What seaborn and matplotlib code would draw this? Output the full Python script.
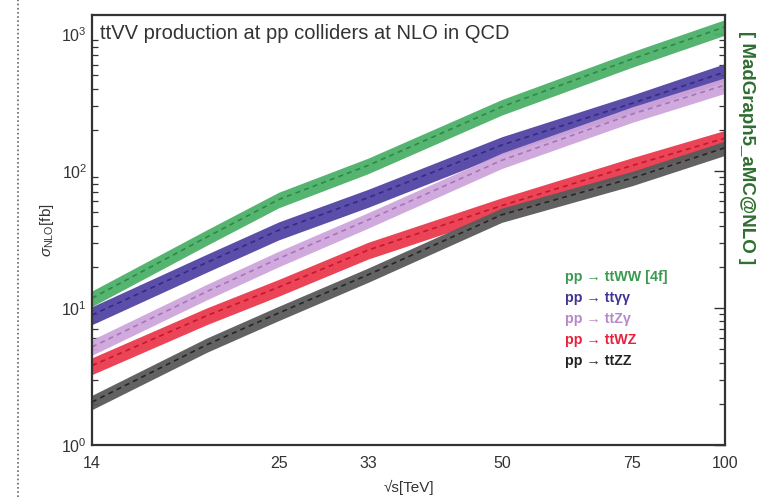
import numpy as np
import pandas as pd
import matplotlib
matplotlib.use("Agg")
import matplotlib.pyplot as plt
from matplotlib.lines import Line2D
import seaborn as sns

# Collider energies (TeV)
sqrt_s = [14, 20, 25, 33, 50, 75, 100]
tick_energies = [14, 25, 33, 50, 75, 100]

# NLO cross sections (fb), central values
xs_ttWW = [11.8, 33, 62, 110, 295, 660, 1130]
xs_ttAA = [8.9, 21.5, 37, 64, 155, 313, 530]
xs_ttZA = [5.2, 13.2, 23, 44, 120, 261, 425]
xs_ttWZ = [3.8, 8.8, 14.2, 26.5, 56, 110, 174]
xs_ttZZ = [2.06, 5.4, 9.2, 17.5, 48, 89, 148]

# relative scale uncertainty (half width of the band)
unc = [0.13, 0.15, 0.13, 0.14, 0.12]

labels = ["pp \u2192 ttWW [4f]", "pp \u2192 tt\u03b3\u03b3", "pp \u2192 ttZ\u03b3",
          "pp \u2192 ttWZ", "pp \u2192 ttZZ"]
band_colors = ["#4cb067", "#5244a3", "#cfa6dc", "#ea3a4e", "#5a5a5a"]
line_colors = ["#2c8a48", "#35298a", "#a673bd", "#c4172d", "#262626"]
text_colors = ["#3a9a50", "#3e3496", "#b589c9", "#e8203a", "#222222"]

series = [xs_ttWW, xs_ttAA, xs_ttZA, xs_ttWZ, xs_ttZZ]
df = pd.concat(
    [pd.DataFrame({"sqrt_s": sqrt_s, "xs": s, "process": lab})
     for s, lab in zip(series, labels)],
    ignore_index=True,
)

sns.set_theme(style="white")
plt.rcParams["font.family"] = ["Liberation Sans", "DejaVu Sans"]
plt.rcParams["mathtext.fontset"] = "custom"
plt.rcParams["mathtext.rm"] = "Liberation Sans"
plt.rcParams["mathtext.it"] = "Liberation Sans:italic"

W, H = 762, 497
fig = plt.figure(figsize=(W / 100, H / 100), dpi=100)
ax = fig.add_axes([92 / W, 1 - 445 / H, (725 - 92) / W, (445 - 15) / H])

for lab, s, u, bc in zip(labels, series, unc, band_colors):
    s = np.asarray(s, dtype=float)
    ax.fill_between(sqrt_s, s * (1 - u), s * (1 + u), color=bc, lw=0, alpha=0.95)

sns.lineplot(data=df, x="sqrt_s", y="xs", hue="process", palette=line_colors,
             hue_order=labels, ax=ax, legend=False, lw=1.2)
for ln in ax.get_lines():
    ln.set_dashes([3, 2.5])

ax.set_xscale("log")
ax.set_yscale("log")
ax.set_xlim(14, 100)
ax.set_ylim(1, 1380)

ax.set_xticks(tick_energies)
ax.set_xticklabels([str(t) for t in tick_energies])
ax.xaxis.set_minor_locator(matplotlib.ticker.NullLocator())
ax.yaxis.set_major_locator(matplotlib.ticker.LogLocator(base=10, numticks=10))
ax.yaxis.set_minor_locator(matplotlib.ticker.LogLocator(base=10, subs=np.arange(2, 10), numticks=20))
ax.yaxis.set_minor_formatter(matplotlib.ticker.NullFormatter())

ax.tick_params(axis="both", which="major", direction="in", length=8, width=1,
               color="#333333", labelsize=11.5, labelcolor="#333333", right=True)
ax.tick_params(axis="y", which="minor", direction="in", length=4, width=0.9,
               color="#333333", right=True, left=True)
ax.tick_params(axis="x", which="major", pad=8)
for sp in ax.spines.values():
    sp.set_color("#333333")
    sp.set_linewidth(1.6)

ax.set_xlabel("\u221as[TeV]", fontsize=11, color="#333333", labelpad=6)
ax.set_ylabel(r"$\sigma_{\rm NLO}$[fb]", fontsize=11, color="#333333", labelpad=4)

ax.text(0.013, 0.957, "ttVV production at pp colliders at NLO in QCD",
        transform=ax.transAxes, ha="left", va="center", fontsize=14.5, color="#333333")

# process key, coloured text entries
for i, (lab, tc) in enumerate(zip(labels, text_colors)):
    fig.text(565 / W, 1 - (277 + 21 * i) / H, lab, fontsize=10.3, color=tc,
             fontweight="bold", va="center", ha="left")

fig.text(746 / W, 1 - 148 / H, "[ MadGraph5_aMC@NLO ]", rotation=-90,
         ha="center", va="center", fontsize=13.5, fontweight="bold", color="#2f6e31")

# dotted margin rule on the left
fig.add_artist(Line2D([18 / W, 18 / W], [0.0, 1.0], transform=fig.transFigure,
                      color="#666666", lw=1.2, ls=(0, (1, 1.5))))

fig.savefig("out.png", dpi=100)
